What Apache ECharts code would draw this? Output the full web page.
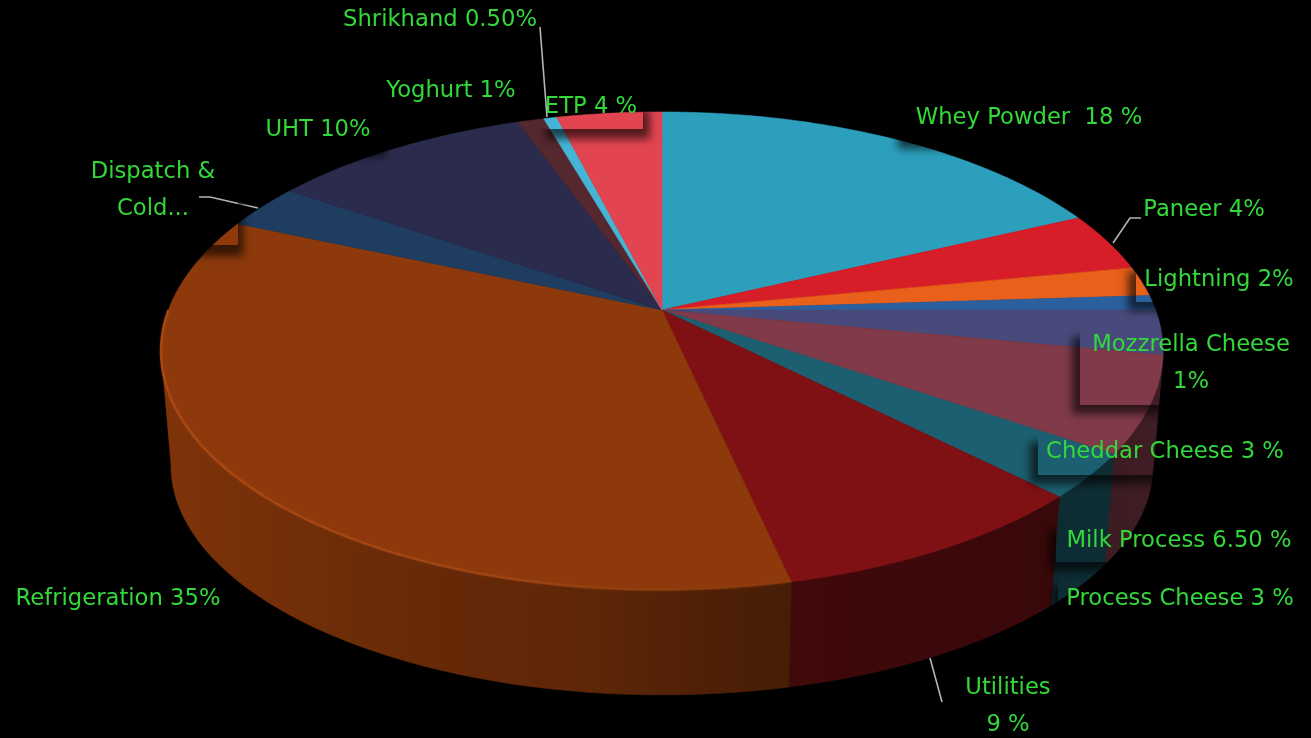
<!DOCTYPE html>
<html>
<head>
<meta charset="utf-8">
<style>html,body{margin:0;padding:0;background:#000}#c{width:1311px;height:738px}</style>
<script src="https://cdn.jsdelivr.net/npm/echarts@6/dist/echarts.min.js"></script>
</head>
<body>
<div id="c"></div>
<script>
// ---- data ----
const categories = ['Whey Powder','Paneer','Lightning','Mozzrella Cheese','Cheddar Cheese','Milk Process','Process Cheese','Utilities','Refrigeration','Dispatch & Cold...','UHT','Yoghurt','Shrikhand','ETP'];
const values = [18,4,2,1,3,6.5,3,9,35,3,10,1,0.5,4];
const labelTexts = ['Whey Powder  18 %','Paneer 4%','Lightning 2%','Mozzrella Cheese\n1%','Cheddar Cheese 3 %','Milk Process 6.50 %','Process Cheese 3 %','Utilities\n9 %','Refrigeration 35%','Dispatch &\nCold...','UHT 10%','Yoghurt 1%','Shrikhand 0.50%','ETP 4 %'];
const sliceColors = ['#2c9fbd','#d71d27','#e8601a','#2b5f9e','#474a7a','#803a4a','#1c5f70','#7f1114','#8d390b','#1f3d60','#2b2b4d','#55272f','#45b5d5','#e34550'];

// ---- layout ----
const labelCenters = [[1029,118],[1204,210],[1219,280],[1191,364],[1165,452],[1179,541],[1180,599],[1008,707],[118,599],[153,191],[318,130],[451,91],[440,20],[591,107]];
const leaders = {12:[[540,27],[547,117]],1:[[1141,218],[1130,218],[1113,243]],9:[[199,197],[210,197],[258,208]],7:[[930,658],[942,702]]};
const labelBoxes = [ // x, y, w, h, shadow dx, shadow dy
  [905,95,245,45,-7,9],[1136,262,164,40,-8,9],[1080,328,220,77,-8,9],[1038,433,262,42,-8,9],
  [1056,520,244,42,-7,9],[1058,578,242,37,-5,7],[80,150,158,95,5,11],[255,110,125,40,6,7],[539,100,104,29,7,10]
];
const top3d = {cx:662, cy:310, rx:493.6, ry:232, k:0.1715};
const bottom3d = {cx:662, cy:426, rx:493.6*0.98, ry:232*0.96, k:0.1715};
const wallShade = [[161,.9],[300,.8],[440,.72],[600,.66],[700,.56],[790,.5],[1050,.45],[1163,.5]];
const OFFSCREEN = 3000;

const total = values.reduce((a,b)=>a+b,0);
const startFrac = []; values.reduce((s,v,i)=>{startFrac[i]=s;return s+v;},0);

function project(a,p){const u=Math.sin(a),v=-Math.cos(a),w=1-p.k*v;return [p.cx+p.rx*u/w,p.cy+p.ry*v/w];}
function arc(a0,a1,p){const n=Math.max(2,Math.ceil((a1-a0)/(Math.PI/240)));const r=[];for(let i=0;i<=n;i++)r.push(project(a0+(a1-a0)*i/n,p));return r;}
function shade(hex,f){const n=parseInt(hex.slice(1),16);const c=[n>>16,(n>>8)&255,n&255].map(x=>Math.round(x*f));return `rgb(${c[0]},${c[1]},${c[2]})`;}
function wallFill(hex){return new echarts.graphic.LinearGradient(161,0,1163,0,wallShade.map(s=>({offset:(s[0]-161)/1002,color:shade(hex,s[1])})),true);}
function outsideBox(b){const [x,y,w,h,dx]=b;const s=dx>0?1:-1,xo=dx>0?x+w:x,xf=dx>0?x:x+w,m=30;
  return [[xo,y-m],[xo+s*m,y-m],[xo+s*m,y+h+m],[xf-s*m,y+h+m],[xf-s*m,y+h],[xo,y+h]];}

const visMin=99.6*Math.PI/180, visMax=260.4*Math.PI/180, rimEnd=270*Math.PI/180;

function renderSlice(params,api){
  const i=params.dataIndex, val=api.value(0), col=sliceColors[i];
  const a0=startFrac[i]/total*2*Math.PI, a1=(startFrac[i]+val)/total*2*Math.PI;
  const kids=[];
  const w0=Math.max(a0,visMin), w1=Math.min(a1,visMax);
  if(w1>w0){
    const pts=arc(w0,w1,top3d).concat(arc(w0,w1,bottom3d).reverse());
    kids.push({type:'polygon',z2:1,shape:{points:pts},style:{fill:wallFill(col),stroke:wallFill(col),lineWidth:.6}});
  }
  const face=[[top3d.cx,top3d.cy]].concat(arc(a0,a1,top3d));
  kids.push({type:'polygon',z2:2,shape:{points:face},style:{fill:col,stroke:col,lineWidth:.6}});
  if(categories[i]==='Refrigeration'){
    kids.push({type:'polyline',z2:3,shape:{points:arc(a0,rimEnd,top3d)},style:{fill:null,lineWidth:2.4,shadowBlur:3,shadowColor:'rgba(170,70,20,.35)',
      stroke:new echarts.graphic.LinearGradient(161,0,790,0,[{offset:0,color:'rgba(176,74,18,.85)'},{offset:.55,color:'rgba(176,78,24,.6)'},{offset:1,color:'rgba(150,70,15,.12)'}],true)}});
  }
  if(leaders[i]) kids.push({type:'polyline',z2:6,shape:{points:leaders[i]},style:{fill:null,stroke:'#b4b4b4',lineWidth:1.6}});
  return {type:'group',children:kids};
}
function renderLabel(params){
  const i=params.dataIndex;
  return {type:'text',x:labelCenters[i][0],y:labelCenters[i][1],style:{text:labelTexts[i],fill:'#33d93a',font:'22.7px "DejaVu Sans"',lineHeight:37,align:'center',verticalAlign:'middle'}};
}
function renderShadow(params){
  const b=labelBoxes[params.dataIndex];
  return {type:'group',clipPath:{type:'polygon',shape:{points:outsideBox(b)}},children:[
    {type:'rect',shape:{x:b[0]+b[4]-OFFSCREEN,y:b[1]+b[5],width:b[2],height:b[3]},
     style:{fill:'#000',shadowBlur:8,shadowColor:'rgba(0,0,0,.62)',shadowOffsetX:OFFSCREEN,shadowOffsetY:0}}
  ]};
}

const chart=echarts.init(document.getElementById('c'),null,{renderer:'canvas'});
chart.setOption({
  backgroundColor:'#000',animation:false,
  series:[
    {type:'custom',coordinateSystem:'none',silent:true,renderItem:renderSlice,z:2,
     data:values.map((v,i)=>({name:categories[i],value:v}))},
    {type:'custom',coordinateSystem:'none',silent:true,renderItem:renderShadow,z:3,data:labelBoxes.map((b,i)=>i)},
    {type:'custom',coordinateSystem:'none',silent:true,renderItem:renderLabel,z:4,data:labelTexts.map((t,i)=>i)}
  ]
});
</script>
</body>
</html>
